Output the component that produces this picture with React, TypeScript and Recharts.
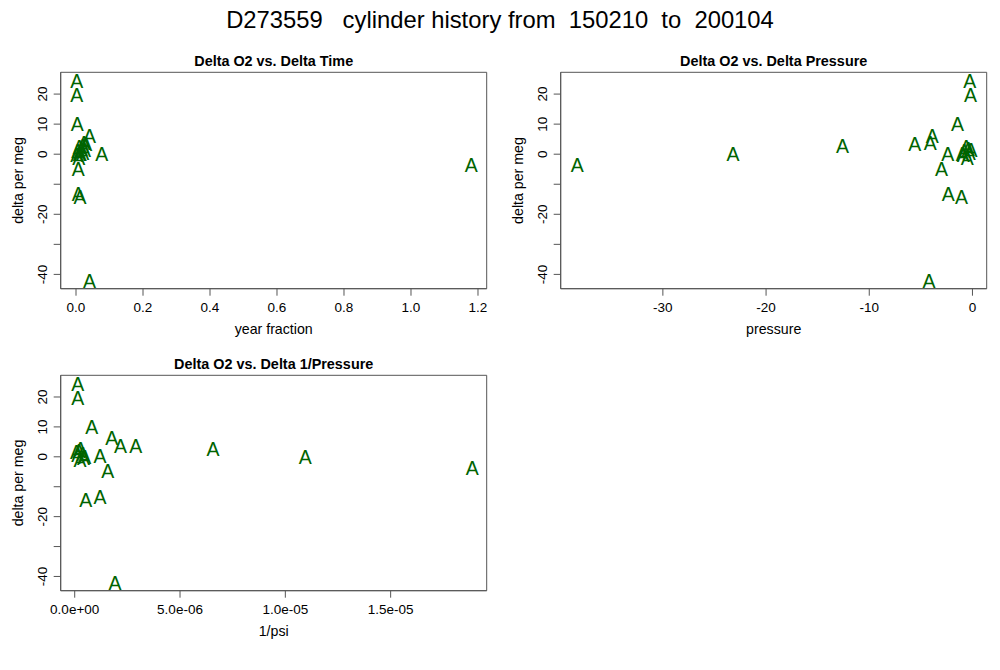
import React from 'react';
import { ScatterChart, Scatter, XAxis, YAxis, ReferenceArea } from 'recharts';

// delta per meg (y) for every sample, with its x in each of the three panels
const deltaPerMeg = [24.4, 19.6, 10.1, 6.2, 3.5, 3.6, 2.7, 0.0, -3.7, 0.2, -4.8, -13.4, -14.3, -42.3, 2.5, 1.8, 1.0, 0.5, -0.3, -1.2, 0.0, 1.5];
const yearFraction = [0.002, 0.002, 0.004, 0.04, 0.029, 0.024, 0.02, 0.077, 1.18, 0.01, 0.007, 0.007, 0.012, 0.04, 0.01, 0.016, 0.005, 0.02, 0.002, 0.008, 0.013, 0.025];
const pressure = [-0.25, -0.2, -1.45, -3.9, -5.6, -4.1, -12.6, -23.2, -38.3, -2.4, -3.0, -2.35, -1.07, -4.2, -0.6, -0.4, -0.8, -0.3, -0.9, -0.5, -1.0, -0.15];
const inversePsi = [1.4e-7, 1.4e-7, 8.1e-7, 1.76e-6, 2.9e-6, 2.18e-6, 6.57e-6, 1.094e-5, 1.887e-5, 1.2e-6, 1.57e-6, 1.2e-6, 5.2e-7, 1.91e-6, 2.8e-7, 2.0e-7, 3.8e-7, 1.5e-7, 4.2e-7, 2.5e-7, 4.8e-7, 0.8e-7];

const yTicks = [-40, -30, -20, -10, 0, 10, 20];
const yTickLabels = ['-40', '', '-20', '', '0', '10', '20'];
const yDomain = [-44.76, 27.25];

const timeTicks = [0, 0.2, 0.4, 0.6, 0.8, 1.0, 1.2];
const timeTickLabels = ['0.0', '0.2', '0.4', '0.6', '0.8', '1.0', '1.2'];
const pressureTicks = [-30, -20, -10, 0];
const pressureTickLabels = ['-30', '-20', '-10', '0'];
const psiTicks = [0, 5e-6, 1e-5, 1.5e-5];
const psiTickLabels = ['0.0e+00', '5.0e-06', '1.0e-05', '1.5e-05'];

const FONT = '"Liberation Sans", Arial, Helvetica, sans-serif';
const AXIS = '#555';
const GREEN = '#006400';
const TICK_FS = 13.5;

const LetterA = (props: any) => {
  const { cx, cy } = props;
  if (cx == null || cy == null) return null;
  return (
    <text x={cx} y={cy + 7} textAnchor="middle" fontSize={19.5} fill={GREEN} fontFamily={FONT}>
      A
    </text>
  );
};

const makeXTick = (ticks: number[], labels: string[]) => (props: any) => {
  const { x, y, payload } = props;
  const i = ticks.findIndex((t) => Math.abs(t - payload.value) < 1e-12);
  const label = i >= 0 ? labels[i] : '';
  return (
    <text x={x} y={y + 16} textAnchor="middle" fontSize={TICK_FS} fill="#000" fontFamily={FONT}>
      {label}
    </text>
  );
};

const YTick = (props: any) => {
  const { x, y, payload } = props;
  const i = yTicks.indexOf(payload.value);
  const label = i >= 0 ? yTickLabels[i] : '';
  if (!label) return null;
  const bx = x - 7;
  return (
    <text x={bx} y={y} transform={`rotate(-90, ${bx}, ${y})`} textAnchor="middle" fontSize={TICK_FS} fill="#000" fontFamily={FONT}>
      {label}
    </text>
  );
};

type PanelProps = {
  left: number;
  top: number;
  xs: number[];
  xDomain: number[];
  xTicks: number[];
  xLabels: string[];
  plotTop: number;
  plotHeight: number;
};

const Panel = ({ left, top, xs, xDomain, xTicks, xLabels, plotTop, plotHeight }: PanelProps) => {
  const data = xs.map((x, i) => ({ x, y: deltaPerMeg[i] }));
  const H = 310;
  const xAxisH = 30;
  const bottom = H - plotTop - plotHeight - xAxisH;
  return (
    <div style={{ position: 'absolute', left, top }}>
      <ScatterChart width={500} height={H} margin={{ top: plotTop, right: 13.3, bottom, left: 0 }}>
        <XAxis
          type="number"
          dataKey="x"
          domain={xDomain}
          ticks={xTicks}
          interval={0}
          height={xAxisH}
          tickSize={7}
          tickMargin={0}
          tick={makeXTick(xTicks, xLabels)}
          axisLine={{ stroke: AXIS }}
          tickLine={{ stroke: AXIS }}
        />
        <YAxis
          type="number"
          dataKey="y"
          domain={yDomain}
          ticks={yTicks}
          interval={0}
          width={60.7}
          tickSize={7}
          tickMargin={0}
          tick={<YTick />}
          axisLine={{ stroke: AXIS }}
          tickLine={{ stroke: AXIS }}
        />
        <ReferenceArea
          x1={xDomain[0]}
          x2={xDomain[1]}
          y1={yDomain[0]}
          y2={yDomain[1]}
          fill="none"
          fillOpacity={0}
          stroke={AXIS}
          strokeWidth={1}
          ifOverflow="visible"
        />
        <Scatter data={data} shape={<LetterA />} isAnimationActive={false} />
      </ScatterChart>
    </div>
  );
};

const boxes = [
  { x: 60.7, y: 72.3, w: 426, h: 216.4, title: 'Delta O2 vs. Delta Time', xlab: 'year fraction' },
  { x: 560.7, y: 72.3, w: 426, h: 216.4, title: 'Delta O2 vs. Delta Pressure', xlab: 'pressure' },
  { x: 60.7, y: 375.3, w: 426, h: 215.4, title: 'Delta O2 vs. Delta 1/Pressure', xlab: '1/psi' },
];

export default function App() {
  return (
    <div style={{ position: 'absolute', left: 0, top: 0, width: 1000, height: 670, background: '#fff', overflow: 'hidden', fontFamily: FONT }}>
      <Panel left={0} top={40} xs={yearFraction} xDomain={[-0.0457, 1.226]} xTicks={timeTicks} xLabels={timeTickLabels} plotTop={32.3} plotHeight={216.4} />
      <Panel left={500} top={40} xs={pressure} xDomain={[-39.9, 1.38]} xTicks={pressureTicks} xLabels={pressureTickLabels} plotTop={32.3} plotHeight={216.4} />
      <Panel left={0} top={343} xs={inversePsi} xDomain={[-6.65e-7, 1.956e-5]} xTicks={psiTicks} xLabels={psiTickLabels} plotTop={32.3} plotHeight={215.4} />
      <svg width={1000} height={670} style={{ position: 'absolute', left: 0, top: 0, pointerEvents: 'none' }}>
        <text x={500} y={27.5} textAnchor="middle" fontSize={23.8} fill="#000" fontFamily={FONT} style={{ whiteSpace: 'pre' }} xmlSpace="preserve">
          D273559   cylinder history from  150210  to  200104
        </text>
        {boxes.map((b) => {
          const cx = b.x + b.w / 2;
          const cy = b.y + b.h / 2;
          const lx = b.x - 38;
          return (
            <g key={b.title}>
              <text x={cx} y={b.y - 6.5} textAnchor="middle" fontSize={14.4} fontWeight="bold" fill="#000" fontFamily={FONT}>
                {b.title}
              </text>
              <text x={cx} y={b.y + b.h + 45} textAnchor="middle" fontSize={14.2} fill="#000" fontFamily={FONT}>
                {b.xlab}
              </text>
              <text x={lx} y={cy} transform={`rotate(-90, ${lx}, ${cy})`} textAnchor="middle" fontSize={14.2} fill="#000" fontFamily={FONT}>
                delta per meg
              </text>
            </g>
          );
        })}
      </svg>
    </div>
  );
}
